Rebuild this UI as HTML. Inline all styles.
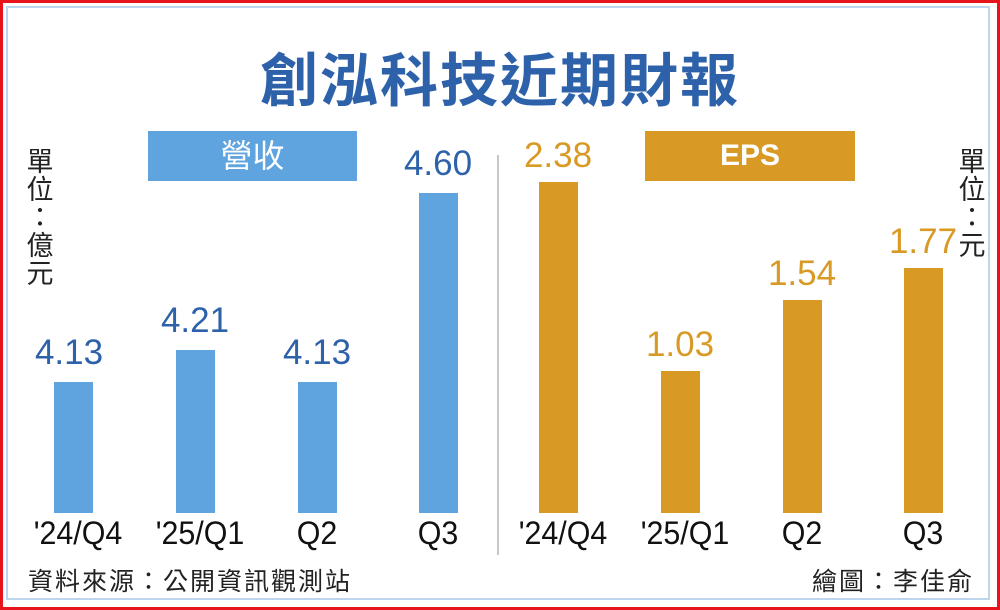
<!DOCTYPE html>
<html><head><meta charset="utf-8"><style>
body{margin:0;width:1000px;height:610px;overflow:hidden;background:#fff;font-family:"Liberation Sans","Noto Sans CJK TC",sans-serif;}
.f{position:absolute;left:0;top:0;width:994px;height:604px;border:3px solid #e8141b;}
.i{position:absolute;left:6px;top:6px;width:984px;height:594px;border:2px solid #bcd6ee;box-sizing:border-box;}
.a{position:absolute;}
.b{position:absolute;background:#5fa4df;width:39px;}
.o{position:absolute;background:#d99a25;width:39px;}
.v{position:absolute;width:120px;text-align:center;font-size:35px;}
.c{position:absolute;width:140px;text-align:center;font-size:32px;color:#111;top:515px;transform:scaleX(0.95);}
</style></head><body>
<div class="f"></div><div class="i"></div>
<div class="a" style="left:0;width:1000px;top:38px;text-align:center;font-size:58px;font-weight:bold;color:#2d62ab;font-family:'Noto Sans CJK TC',sans-serif;line-height:76px;letter-spacing:2px">創泓科技近期財報</div>
<div class="a" style="left:148px;top:131px;width:209px;height:50px;background:#5fa4df;color:#fff;font-size:32px;text-align:center;line-height:50px">營收</div>
<div class="a" style="left:645px;top:131px;width:210px;height:50px;background:#d99a25;color:#fff;font-size:30px;font-weight:bold;text-align:center;line-height:50px">EPS</div>
<div class="a" style="left:24px;top:148px;width:32px;font-size:27px;line-height:28px;color:#222;text-align:center">單<br>位<br>：<br>億<br>元</div>
<div class="a" style="left:956px;top:148px;width:32px;font-size:27px;line-height:28px;color:#222;text-align:center">單<br>位<br>：<br>元</div>
<div class="a" style="left:497px;top:155px;width:2px;height:400px;background:#c8c8c8"></div>
<div class="b" style="left:54px;top:382px;height:131px"></div>
<div class="b" style="left:176px;top:350px;height:163px"></div>
<div class="b" style="left:298px;top:382px;height:131px"></div>
<div class="b" style="left:419px;top:193px;height:320px"></div>
<div class="o" style="left:539px;top:182px;height:331px"></div>
<div class="o" style="left:661px;top:371px;height:142px"></div>
<div class="o" style="left:783px;top:300px;height:213px"></div>
<div class="o" style="left:904px;top:268px;height:245px"></div>
<div class="v" style="left:9px;top:333px;color:#2d62ab">4.13</div>
<div class="v" style="left:135px;top:301px;color:#2d62ab">4.21</div>
<div class="v" style="left:257px;top:333px;color:#2d62ab">4.13</div>
<div class="v" style="left:378px;top:144px;color:#2d62ab">4.60</div>
<div class="v" style="left:498px;top:136px;color:#d99a25">2.38</div>
<div class="v" style="left:620px;top:325px;color:#d99a25">1.03</div>
<div class="v" style="left:742px;top:254px;color:#d99a25">1.54</div>
<div class="v" style="left:863px;top:222px;color:#d99a25">1.77</div>
<div class="c" style="left:8px">'24/Q4</div>
<div class="c" style="left:130px">'25/Q1</div>
<div class="c" style="left:247px">Q2</div>
<div class="c" style="left:368px">Q3</div>
<div class="c" style="left:493px">'24/Q4</div>
<div class="c" style="left:615px">'25/Q1</div>
<div class="c" style="left:732px">Q2</div>
<div class="c" style="left:853px">Q3</div>
<div class="a" style="left:28px;top:562px;font-size:25px;letter-spacing:2px;color:#222">資料來源：公開資訊觀測站</div>
<div class="a" style="left:812px;top:562px;font-size:25px;letter-spacing:2px;color:#222">繪圖：李佳俞</div>
</body></html>
